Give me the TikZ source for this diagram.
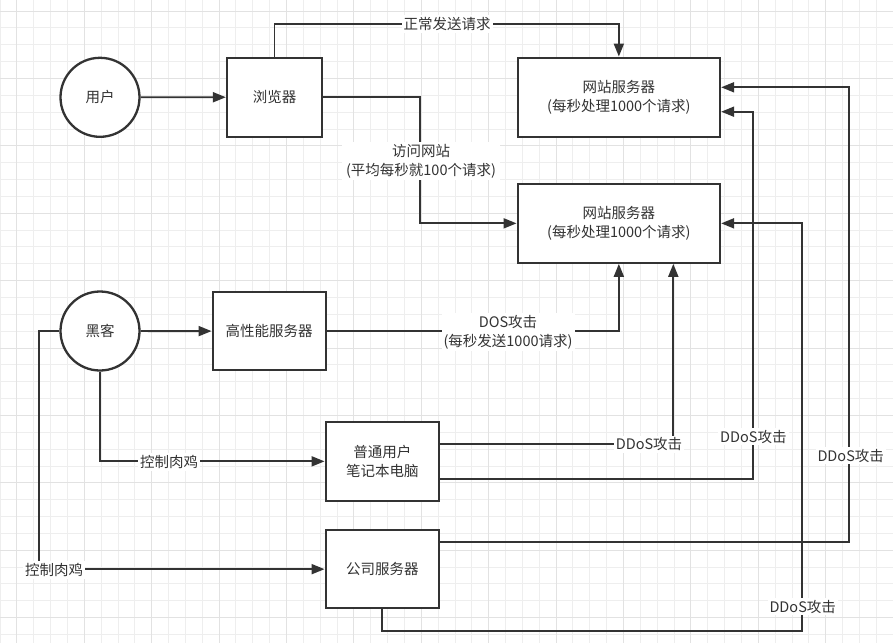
\documentclass[tikz,border=0pt]{standalone}
\usepackage{fontspec}
\setmainfont{Noto Sans CJK SC}
\usetikzlibrary{arrows.meta}
\definecolor{ink}{HTML}{333333}
\definecolor{gridc}{HTML}{EEEEEE}
\definecolor{gridm}{HTML}{E2E2E2}
\begin{document}
\begin{tikzpicture}[x=1pt,y=-1pt,
  every node/.style={font=\fontsize{14.5pt}{19pt}\selectfont, text=ink},
  gridminor/.style={draw=gridc, line width=0.9pt},
  gridmajor/.style={draw=gridm, line width=0.9pt},
  circ/.style={circle, draw=ink, line width=2.3pt, fill=white, minimum size=79pt, inner sep=0pt},
  box/.style={rectangle, draw=ink, line width=2.3pt, fill=white, inner sep=0pt, align=center},
  conn/.style={draw=ink, line width=1.9pt},
  arr/.style={conn, -{Triangle[length=13pt,width=10pt]}},
  lbl/.style={fill=white, inner sep=2pt, align=center}]
\useasboundingbox (0,0) rectangle (893,643);
\fill[white] (0,0) rectangle (893,643);
% grid
\foreach \xx in {0,16.85,...,893} \draw[gridminor] (\xx,0) -- (\xx,643);
\foreach \yy in {11,27.85,...,643} \draw[gridminor] (0,\yy) -- (893,\yy);
\foreach \xx in {16.85,84.25,...,893} \draw[gridmajor] (\xx,0) -- (\xx,643);
\foreach \yy in {11,78.4,...,643} \draw[gridmajor] (0,\yy) -- (893,\yy);

% nodes
\node[circ] (user) at (100,97.3) {用户};
\node[box, minimum width=95pt, minimum height=79pt] (browser) at (274.5,97.2) {浏览器};
\node[box, minimum width=202.3pt, minimum height=79pt] (server1) at (618.85,97.2) {网站服务器\\(每秒处理1000个请求)};
\node[box, minimum width=202.3pt, minimum height=78.7pt] (server2) at (618.85,223.35) {网站服务器\\(每秒处理1000个请求)};
\node[circ] (hacker) at (100,331) {黑客};
\node[box, minimum width=113pt, minimum height=78.3pt] (hp) at (269.2,331.15) {高性能服务器};
\node[box, minimum width=113.3pt, minimum height=78.7pt] (laptop) at (382.35,461.35) {普通用户\\笔记本电脑};
\node[box, minimum width=113.3pt, minimum height=78.3pt] (company) at (382.35,569.15) {公司服务器};

% connectors
\draw[arr] (user) -- (browser);
\draw[arr] (browser.north) -- (274.5,24.3) -| (server1.north);
\draw[arr] (browser.east) -- (420,97.2) |- (server2.west);
\draw[arr] (hacker) -- (hp);
\draw[arr] (hp.east) -| (server2.south);
\draw[arr] (hacker.south) |- (laptop.west);
\draw[arr] (hacker.west) -- (39,331) |- (company.west);
\draw[arr] (laptop.east |- 0,444) -- (673.3,444) -- (server2.south -| 673.3,0);
\draw[arr] (laptop.east |- 0,479.3) -- (752.7,479.3) -- (752.7,111.7) -- (server1.east |- 0,111.7);
\draw[arr] (company.east |- 0,541.7) -- (849.3,541.7) -- (849.3,87.3) -- (server1.east |- 0,87.3);
\draw[arr] (company.south) |- (801.7,630.7) |- (server2.east);

% labels
\node[lbl] (l1) at (447,24) {正常发送请求};
\node[lbl, inner xsep=4pt] (l2) at (421,161) {访问网站\\(平均每秒就100个请求)};
\node[lbl] (l3) at (508,332) {DOS攻击\\(每秒发送1000请求)};
\node[lbl] (l4) at (169,462) {控制肉鸡};
\node[lbl] (l5) at (54,570) {控制肉鸡};
\node[lbl] (l6) at (649,444.3) {DDoS攻击};
\node[lbl] (l7) at (753.3,436.7) {DDoS攻击};
\node[lbl] (l8) at (850.7,455.7) {DDoS攻击};
\node[lbl] (l9) at (802.7,606.7) {DDoS攻击};
\end{tikzpicture}
\end{document}
